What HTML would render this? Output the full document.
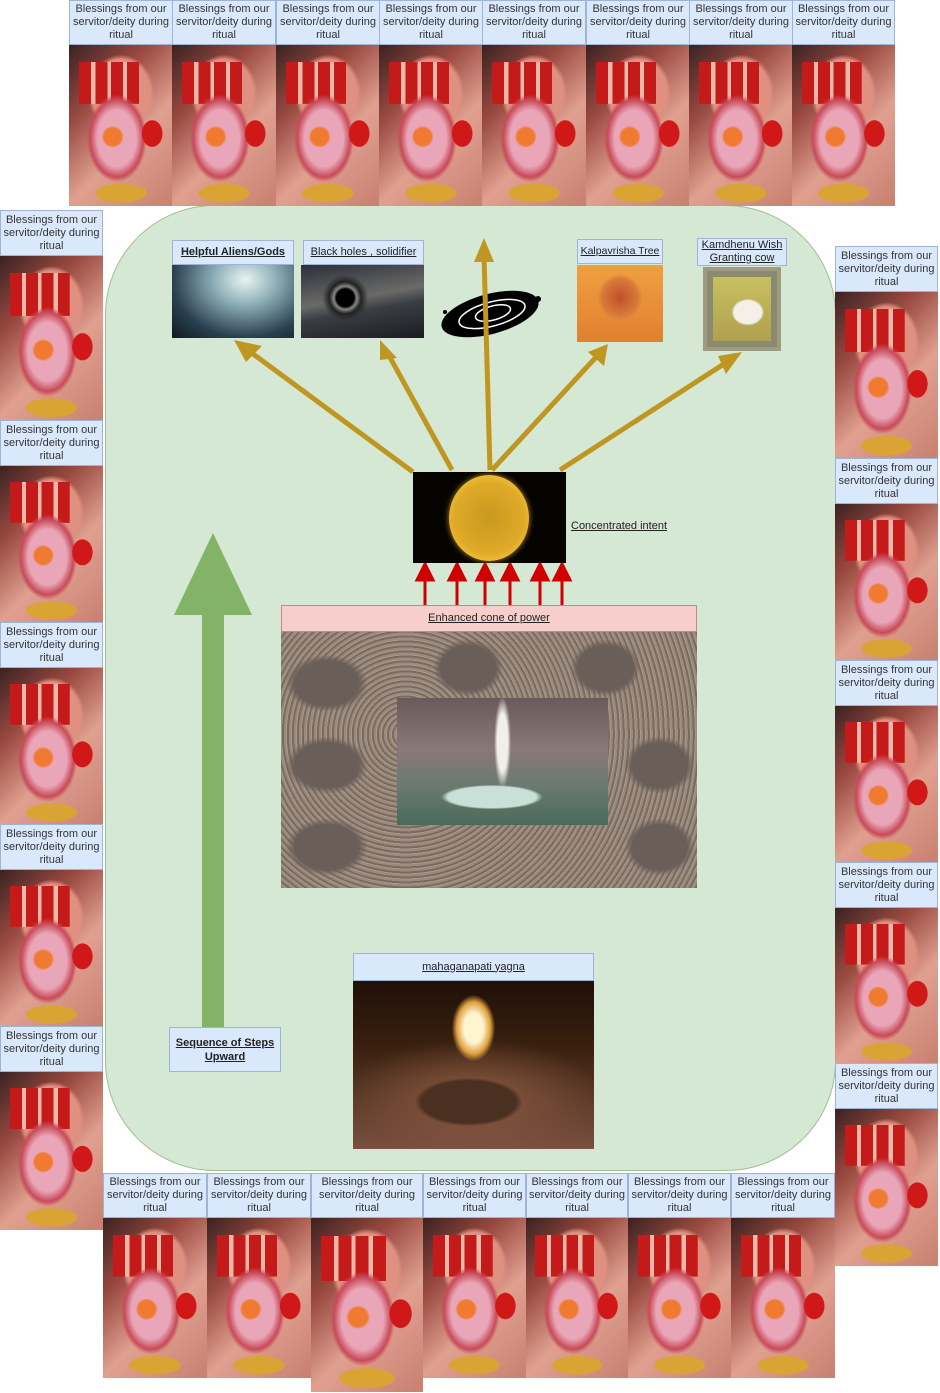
<!DOCTYPE html>
<html><head><meta charset="utf-8">
<style>
*{margin:0;padding:0;box-sizing:border-box}
body{width:940px;height:1393px;position:relative;background:#fff;font-family:"Liberation Sans",Arial,sans-serif;overflow:hidden}
.a{position:absolute}
.lb{position:absolute;background:#dae8fc;border:1px solid #9fb4d4;color:#333;font-size:11px;line-height:13px;text-align:center;display:flex;align-items:center;justify-content:center;padding:0 2px}
.h{position:absolute;overflow:hidden;
background:
 radial-gradient(ellipse 30% 7% at 50% 92%, #d9a434 0 80%, transparent 85%),
 radial-gradient(circle at 42% 57%, #f07a30 0 8%, transparent 10%),
 radial-gradient(ellipse 12% 10% at 80% 55%, #d01818 0 80%, transparent 85%),
 radial-gradient(ellipse 34% 32% at 46% 58%, #e9a6b8 0 55%, #c84a58 75%, transparent 85%),
 linear-gradient(90deg,#c51a1a 0 20%,#eab8a8 20% 27%,#c51a1a 27% 47%,#eab8a8 47% 53%,#c51a1a 53% 73%,#eab8a8 73% 80%,#c51a1a 80% 100%) 22% 14%/58% 26% no-repeat,
 radial-gradient(ellipse 40% 30% at 50% 30%, #e09080 0 70%, transparent 80%),
 linear-gradient(135deg,#3a2222 0%,#9a4a40 30%,#e0a090 60%,#c88070 100%);}
.u{text-decoration:underline;font-weight:bold;color:#222;font-size:11px}
</style></head><body>

<div class="a" style="left:105px;top:205px;width:731px;height:966px;background:#d5e8d4;border:1px solid #9cc08f;border-radius:110px"></div>

<div class="h" style="left:69px;top:45px;width:104px;height:161px"></div>
<div class="h" style="left:172px;top:45px;width:104px;height:161px"></div>
<div class="h" style="left:276px;top:45px;width:104px;height:161px"></div>
<div class="h" style="left:379px;top:45px;width:104px;height:161px"></div>
<div class="h" style="left:482px;top:45px;width:104px;height:161px"></div>
<div class="h" style="left:586px;top:45px;width:104px;height:161px"></div>
<div class="h" style="left:689px;top:45px;width:104px;height:161px"></div>
<div class="h" style="left:792px;top:45px;width:103px;height:161px"></div>
<div class="lb" style="left:69px;top:0;width:104px;height:45px">Blessings from our servitor/deity during ritual</div>
<div class="lb" style="left:172px;top:0;width:104px;height:45px">Blessings from our servitor/deity during ritual</div>
<div class="lb" style="left:276px;top:0;width:104px;height:45px">Blessings from our servitor/deity during ritual</div>
<div class="lb" style="left:379px;top:0;width:104px;height:45px">Blessings from our servitor/deity during ritual</div>
<div class="lb" style="left:482px;top:0;width:104px;height:45px">Blessings from our servitor/deity during ritual</div>
<div class="lb" style="left:586px;top:0;width:104px;height:45px">Blessings from our servitor/deity during ritual</div>
<div class="lb" style="left:689px;top:0;width:104px;height:45px">Blessings from our servitor/deity during ritual</div>
<div class="lb" style="left:792px;top:0;width:103px;height:45px">Blessings from our servitor/deity during ritual</div>

<div class="h" style="left:0;top:256px;width:103px;height:165px"></div>
<div class="lb" style="left:0;top:210px;width:103px;height:46px">Blessings from our servitor/deity during ritual</div>
<div class="h" style="left:0;top:466px;width:103px;height:157px"></div>
<div class="lb" style="left:0;top:420px;width:103px;height:46px">Blessings from our servitor/deity during ritual</div>
<div class="h" style="left:0;top:668px;width:103px;height:157px"></div>
<div class="lb" style="left:0;top:622px;width:103px;height:46px">Blessings from our servitor/deity during ritual</div>
<div class="h" style="left:0;top:870px;width:103px;height:157px"></div>
<div class="lb" style="left:0;top:824px;width:103px;height:46px">Blessings from our servitor/deity during ritual</div>
<div class="h" style="left:0;top:1072px;width:103px;height:158px"></div>
<div class="lb" style="left:0;top:1026px;width:103px;height:46px">Blessings from our servitor/deity during ritual</div>

<div class="h" style="left:835px;top:292px;width:103px;height:167px"></div>
<div class="lb" style="left:835px;top:246px;width:103px;height:46px">Blessings from our servitor/deity during ritual</div>
<div class="h" style="left:835px;top:504px;width:103px;height:157px"></div>
<div class="lb" style="left:835px;top:458px;width:103px;height:46px">Blessings from our servitor/deity during ritual</div>
<div class="h" style="left:835px;top:706px;width:103px;height:157px"></div>
<div class="lb" style="left:835px;top:660px;width:103px;height:46px">Blessings from our servitor/deity during ritual</div>
<div class="h" style="left:835px;top:908px;width:103px;height:156px"></div>
<div class="lb" style="left:835px;top:862px;width:103px;height:46px">Blessings from our servitor/deity during ritual</div>
<div class="h" style="left:835px;top:1109px;width:103px;height:157px"></div>
<div class="lb" style="left:835px;top:1063px;width:103px;height:46px">Blessings from our servitor/deity during ritual</div>

<div class="h" style="left:103px;top:1218px;width:104px;height:160px"></div>
<div class="h" style="left:207px;top:1218px;width:104px;height:160px"></div>
<div class="h" style="left:311px;top:1218px;width:112px;height:174px"></div>
<div class="h" style="left:423px;top:1218px;width:103px;height:160px"></div>
<div class="h" style="left:526px;top:1218px;width:102px;height:160px"></div>
<div class="h" style="left:628px;top:1218px;width:103px;height:160px"></div>
<div class="h" style="left:731px;top:1218px;width:104px;height:160px"></div>
<div class="lb" style="left:103px;top:1173px;width:104px;height:45px">Blessings from our servitor/deity during ritual</div>
<div class="lb" style="left:207px;top:1173px;width:104px;height:45px">Blessings from our servitor/deity during ritual</div>
<div class="lb" style="left:311px;top:1173px;width:112px;height:45px">Blessings from our servitor/deity during ritual</div>
<div class="lb" style="left:423px;top:1173px;width:103px;height:45px">Blessings from our servitor/deity during ritual</div>
<div class="lb" style="left:526px;top:1173px;width:102px;height:45px">Blessings from our servitor/deity during ritual</div>
<div class="lb" style="left:628px;top:1173px;width:103px;height:45px">Blessings from our servitor/deity during ritual</div>
<div class="lb" style="left:731px;top:1173px;width:104px;height:45px">Blessings from our servitor/deity during ritual</div>

<div class="lb u" style="left:172px;top:240px;width:122px;height:25px">Helpful Aliens/Gods</div>
<div class="a" style="left:172px;top:265px;width:122px;height:73px;background:radial-gradient(ellipse at 60% 20%,#e8f4f4 0%,#8fb0b8 30%,#2a4050 70%,#101820 100%)"></div>
<div class="lb u" style="left:303px;top:240px;width:121px;height:25px;font-weight:normal;white-space:nowrap">Black holes , solidifier</div>
<div class="a" style="left:301px;top:265px;width:123px;height:73px;background:radial-gradient(circle at 36% 45%,#000 0 10%,#888 13%,#222 18%,transparent 26%),linear-gradient(170deg,#2a3038 0%,#6a6a68 45%,#3a3e44 60%,#1a1c20 100%)"></div>
<div class="lb u" style="left:577px;top:239px;width:86px;height:25px;font-weight:normal;white-space:nowrap;font-size:10.5px;padding:0">Kalpavrisha Tree</div>
<div class="a" style="left:577px;top:265px;width:86px;height:77px;background:radial-gradient(ellipse 35% 40% at 50% 42%,#c0502a 0%,#d87a3a 60%,transparent 75%),linear-gradient(#f0a040,#e08030)"></div>
<div class="lb u" style="left:697px;top:238px;width:90px;height:28px;font-weight:normal;line-height:13px">Kamdhenu Wish Granting cow</div>
<div class="a" style="left:703px;top:267px;width:78px;height:84px;background:#8a8a70;border:4px solid #a09a80"><div style="position:absolute;left:6px;top:6px;right:6px;bottom:6px;background:radial-gradient(ellipse 40% 30% at 60% 55%,#f4f0e8 0 60%,transparent 70%),linear-gradient(#c8c060,#b0a050)"></div></div>

<svg class="a" style="left:0;top:0" width="940" height="1393">
 <ellipse cx="490" cy="314" rx="50" ry="20" transform="rotate(-15 490 314)" fill="#000"/>
 <ellipse cx="492" cy="314" rx="34" ry="12" transform="rotate(-15 492 314)" fill="none" stroke="#fff" stroke-width="1.5"/>
 <ellipse cx="493" cy="313" rx="18" ry="7" transform="rotate(-15 493 313)" fill="none" stroke="#fff" stroke-width="1.5"/>
 <circle cx="538" cy="299" r="3" fill="#000"/><circle cx="445" cy="312" r="2" fill="#000"/>
 <g stroke="#bf9620" stroke-width="5" fill="#bf9620">
  <line x1="413" y1="472" x2="245" y2="348"/>
  <line x1="452" y1="470" x2="387" y2="352"/>
  <line x1="490" y1="470" x2="484" y2="255"/>
  <line x1="492" y1="470" x2="598" y2="355"/>
  <line x1="560" y1="470" x2="730" y2="360"/>
 </g>
 <g fill="#bf9620">
  <polygon points="234,340 262,346 246,362"/>
  <polygon points="380,340 397,358 380,360"/>
  <polygon points="484,238 474,262 494,262"/>
  <polygon points="608,344 604,366 588,352"/>
  <polygon points="742,352 726,374 718,356"/>
 </g>
 <g stroke="#d00000" stroke-width="3" fill="#d00000">
  <line x1="425" y1="605" x2="425" y2="578"/><polygon points="425,564 417,580 433,580"/>
  <line x1="457" y1="605" x2="457" y2="578"/><polygon points="457,564 449,580 465,580"/>
  <line x1="485" y1="605" x2="485" y2="578"/><polygon points="485,564 477,580 493,580"/>
  <line x1="510" y1="605" x2="510" y2="578"/><polygon points="510,564 502,580 518,580"/>
  <line x1="540" y1="605" x2="540" y2="578"/><polygon points="540,564 532,580 548,580"/>
  <line x1="562" y1="605" x2="562" y2="578"/><polygon points="562,564 554,580 570,580"/>
 </g>
 <polygon points="213,533 252,615 224,615 224,1027 202,1027 202,615 174,615" fill="#82b366"/>
</svg>

<div class="a" style="left:413px;top:472px;width:153px;height:91px;background:#050300"><div style="position:absolute;left:36px;top:3px;width:80px;height:86px;border-radius:50%;background:radial-gradient(circle at 50% 50%,#c89820 0%,#e0aa28 60%,#f8cc40 85%,#ffe070 92%,#604008 100%);box-shadow:0 0 6px #c09020"></div></div>
<div class="a u" style="left:571px;top:520px;font-weight:normal">Concentrated intent</div>

<div class="lb u" style="left:281px;top:605px;width:416px;height:27px;background:#f8cecc;border-color:#c08a88;font-weight:normal">Enhanced cone of power</div>
<div class="a" style="left:281px;top:632px;width:416px;height:256px;background:
radial-gradient(ellipse 14% 16% at 11% 20%,#6a5e58 0 55%,transparent 70%),
radial-gradient(ellipse 14% 16% at 11% 52%,#6a5e58 0 55%,transparent 70%),
radial-gradient(ellipse 14% 16% at 11% 84%,#6a5e58 0 55%,transparent 70%),
radial-gradient(ellipse 12% 16% at 91% 52%,#6a5e58 0 55%,transparent 70%),
radial-gradient(ellipse 12% 16% at 91% 84%,#6a5e58 0 55%,transparent 70%),
radial-gradient(ellipse 12% 16% at 45% 14%,#6a5e58 0 55%,transparent 70%),
radial-gradient(ellipse 12% 16% at 78% 14%,#6a5e58 0 55%,transparent 70%),
repeating-radial-gradient(circle at 30% 40%,#9a8a7e 0 2px,#7a6a60 2px 4px,#a89888 4px 5px)"></div>
<div class="a" style="left:397px;top:698px;width:211px;height:127px;background:radial-gradient(ellipse 30% 12% at 45% 78%,#c8e0d8 0 70%,transparent 80%),radial-gradient(ellipse 5% 45% at 50% 35%,#f0f0e8 0 50%,transparent 80%),linear-gradient(#6a5a5a 0%,#8a7878 40%,#6a7a70 70%,#4a6a5a 100%)"></div>

<div class="lb u" style="left:353px;top:953px;width:241px;height:28px;font-weight:normal">mahaganapati yagna</div>
<div class="a" style="left:353px;top:981px;width:241px;height:168px;background:radial-gradient(ellipse 10% 22% at 50% 28%,#fff4d0 0 40%,#e0a040 70%,transparent 90%),radial-gradient(ellipse 28% 18% at 48% 72%,#4a3020 0 70%,transparent 80%),radial-gradient(ellipse 60% 40% at 50% 70%,#8a5a40 0%,transparent 90%),linear-gradient(#201008 0%,#3a2010 40%,#7a5040 100%)"></div>

<div class="lb u" style="left:169px;top:1027px;width:112px;height:45px;line-height:14px">Sequence of Steps Upward</div>

</body></html>
